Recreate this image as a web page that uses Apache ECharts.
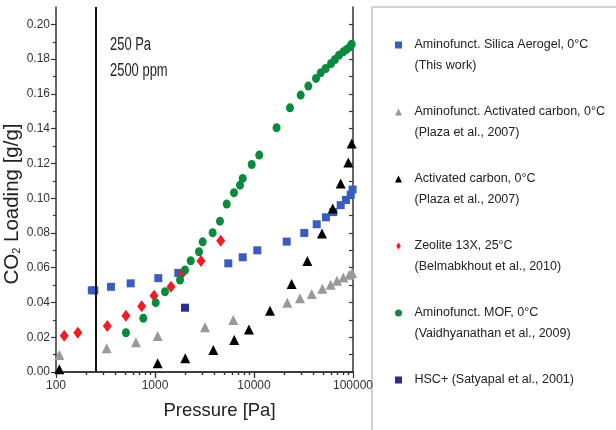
<!DOCTYPE html>
<html>
<head>
<meta charset="utf-8">
<script src="https://cdn.jsdelivr.net/npm/echarts@6/dist/echarts.min.js"></script>
<style>
html, body { margin: 0; padding: 0; background: #fff; }
#chart { width: 616px; height: 430px; }
</style>
</head>
<body>
<div id="chart"></div>
<script>
// values: pressure [Pa] and CO2 loading [g/g]
const silicaP = [230, 244, 359, 568, 1080, 1720, 5500, 7690, 10800, 21400, 32200, 43000, 53300, 63200, 75100, 84900, 94800, 99000];
const silicaL = [0.047, 0.047, 0.049, 0.051, 0.054, 0.057, 0.0625, 0.066, 0.070, 0.075, 0.080, 0.085, 0.089, 0.092, 0.096, 0.099, 0.102, 0.105];

const aminoCarbonP = [108, 325, 643, 1065, 3200, 6180, 21700, 29100, 38300, 49000, 59500, 68900, 79800, 91800, 98000];
const aminoCarbonL = [0.0098, 0.0136, 0.0171, 0.0207, 0.0257, 0.0299, 0.0399, 0.0424, 0.0449, 0.0479, 0.0502, 0.0525, 0.0544, 0.0560, 0.0570];

const carbonP = [108, 1065, 2020, 3880, 6320, 8890, 14500, 24000, 34600, 48600, 62400, 75100, 89700, 97000];
const carbonL = [0.0016, 0.005, 0.0079, 0.0127, 0.0184, 0.0245, 0.0353, 0.0506, 0.0638, 0.0797, 0.0941, 0.1085, 0.1206, 0.1315];

const zeoliteP = [121, 166, 330, 509, 734, 977, 1450, 1905, 2915, 4610];
const zeoliteL = [0.0209, 0.0226, 0.0264, 0.0324, 0.0378, 0.0439, 0.049, 0.0571, 0.0638, 0.0755];

const mofP = [509, 762, 1017, 1262, 1790, 2010, 2295, 2780, 3030, 3820, 4530, 5300, 6280, 7220, 7690, 9480, 11300, 16900, 23100, 29600, 35400, 42300, 47200, 53000, 60000, 65800, 72200, 79800, 86300, 93300, 97000];
const mofL = [0.0226, 0.0309, 0.0399, 0.0462, 0.0529, 0.0587, 0.064, 0.0692, 0.0749, 0.0801, 0.0868, 0.0966, 0.1031, 0.1075, 0.1114, 0.1194, 0.1248, 0.1405, 0.152, 0.1593, 0.1645, 0.1689, 0.1721, 0.1746, 0.1775, 0.1798, 0.1823, 0.1842, 0.1856, 0.1871, 0.1886];

const hscP = [2010];
const hscL = [0.037];

const seriesNames = [
    'Aminofunct. Silica Aerogel, 0°C\n(This work)',
    'Aminofunct. Activated carbon, 0°C\n(Plaza et al., 2007)',
    'Activated carbon, 0°C\n(Plaza et al., 2007)',
    'Zeolite 13X, 25°C\n(Belmabkhout et al., 2010)',
    'Aminofunct. MOF, 0°C\n(Vaidhyanathan et al., 2009)',
    'HSC+ (Satyapal et al., 2001)'
];

const yTicks = [0, 0.02, 0.04, 0.06, 0.08, 0.10, 0.12, 0.14, 0.16, 0.18, 0.20];
const yMinorTicks = [0.01, 0.03, 0.05, 0.07, 0.09, 0.11, 0.13, 0.15, 0.17, 0.19];
const markPressure = 250;   // vertical line, 250 Pa = 2500 ppm

// minor tick places of the log axis (2..9 x each decade), in log10 units
const decades = [2, 3, 4];
const minorLogs = [];
decades.forEach(function (d) {
    for (let k = 2; k <= 9; k++) minorLogs.push(d + Math.log10(k));
});

// legend markers as paths so they keep their shape inside the wide icon box
const ICON_SQUARE = 'path://M0,0L10,0L10,10L0,10Z';
const ICON_TRIANGLE = 'path://M5,0L10,10L0,10Z';
const ICON_DIAMOND = 'path://M4,0L8,6L4,12L0,6Z';
const ICON_CIRCLE = 'path://M5,0A5,5,0,1,1,5,10A5,5,0,1,1,5,0Z';

const SANS = '"Liberation Sans", Arial, sans-serif';
const axisColor = '#333';

const gridRect = { left: 56, top: 7, width: 297, height: 365 };

function pairs(xs, ys) {
    return xs.map(function (x, i) { return [x, ys[i]]; });
}

const chart = echarts.init(document.getElementById('chart'), null, { renderer: 'canvas' });

const option = {
    animation: false,
    backgroundColor: '#fff',
    grid: [
        Object.assign({}, gridRect),
        Object.assign({}, gridRect),
        Object.assign({}, gridRect),
        Object.assign({}, gridRect)
    ],
    xAxis: [
        {
            type: 'log', gridIndex: 0, position: 'bottom', logBase: 10, min: 100, max: 100000,
            name: 'Pressure [Pa]', nameLocation: 'middle', nameGap: 29,
            nameTextStyle: { fontFamily: SANS, fontSize: 18.5, color: '#222', padding: [0, 0, 0, 30] },
            axisLine: { lineStyle: { color: axisColor, width: 1.5 } },
            axisTick: { inside: false, length: 6, lineStyle: { color: axisColor, width: 1.2 } },
            axisLabel: {
                margin: 8, fontFamily: SANS, fontSize: 12, color: '#333',
                formatter: function (v) { return String(Math.round(v)); }
            },
            splitLine: { show: false }, minorTick: { show: false }
        },
        {
            type: 'value', gridIndex: 1, position: 'bottom', min: 2, max: 5,
            axisLine: { show: false },
            axisTick: { inside: false, length: 3, customValues: minorLogs, lineStyle: { color: axisColor, width: 1.2 } },
            axisLabel: { show: false }, splitLine: { show: false }
        },
        {
            type: 'value', gridIndex: 2, position: 'top', min: 2, max: 5,
            axisLine: { lineStyle: { color: axisColor, width: 1.5 } },
            axisTick: { inside: true, length: 6, customValues: [3, 4], lineStyle: { color: axisColor, width: 1.2 } },
            axisLabel: { show: false }, splitLine: { show: false }
        },
        {
            type: 'value', gridIndex: 3, position: 'top', min: 2, max: 5,
            axisLine: { show: false },
            axisTick: { inside: true, length: 3, customValues: minorLogs, lineStyle: { color: axisColor, width: 1.2 } },
            axisLabel: { show: false }, splitLine: { show: false }
        }
    ],
    yAxis: [
        {
            type: 'value', gridIndex: 0, position: 'left', min: 0, max: 0.21,
            name: '{a|CO}{b|2}{a| Loading [g/g]}', nameLocation: 'middle', nameGap: 26,
            nameTextStyle: {
                padding: [0, 29, 0, 0],
                rich: {
                    a: { fontFamily: SANS, fontSize: 20.5, color: '#222' },
                    b: { fontFamily: SANS, fontSize: 11, color: '#222', verticalAlign: 'bottom' }
                }
            },
            axisLine: { lineStyle: { color: axisColor, width: 1.5 } },
            axisTick: { inside: false, length: 5, customValues: yTicks, lineStyle: { color: axisColor, width: 1.2 } },
            axisLabel: {
                customValues: yTicks, margin: 6, fontFamily: SANS, fontSize: 12, color: '#333',
                formatter: function (v) { return v.toFixed(2); }
            },
            splitLine: { show: false }
        },
        {
            type: 'value', gridIndex: 1, position: 'left', min: 0, max: 0.21,
            axisLine: { show: false },
            axisTick: { inside: false, length: 3, customValues: yMinorTicks, lineStyle: { color: axisColor, width: 1.2 } },
            axisLabel: { show: false }, splitLine: { show: false }
        },
        {
            type: 'value', gridIndex: 2, position: 'right', min: 0, max: 0.21,
            axisLine: { lineStyle: { color: axisColor, width: 1.5 } },
            axisTick: { inside: true, length: 4, customValues: yTicks.concat(yMinorTicks), lineStyle: { color: axisColor, width: 1.2 } },
            axisLabel: { show: false }, splitLine: { show: false }
        },
        {
            type: 'value', gridIndex: 3, position: 'right', min: 0, max: 0.21, show: false
        }
    ],
    legend: {
        orient: 'vertical',
        left: 395, top: 13.5,
        padding: 0,
        itemGap: 4,
        itemWidth: 22, itemHeight: 7,
        symbolKeepAspect: true,
        selectedMode: false,
        textStyle: { fontFamily: SANS, fontSize: 12.5, color: '#222', lineHeight: 21 },
        // blank lines keep the marker level with the first text line
        formatter: function (name) {
            return name.indexOf('\n') >= 0 ? '\n' + name : '\n' + name + '\n';
        },
        data: [
            { name: seriesNames[0], icon: ICON_SQUARE },
            { name: seriesNames[1], icon: ICON_TRIANGLE },
            { name: seriesNames[2], icon: ICON_TRIANGLE },
            { name: seriesNames[3], icon: ICON_DIAMOND },
            { name: seriesNames[4], icon: ICON_CIRCLE },
            { name: seriesNames[5], icon: ICON_SQUARE }
        ]
    },
    graphic: [
        {
            type: 'rect', silent: true,
            shape: { x: 372, y: 7, width: 300, height: 460 },
            style: { fill: 'none', stroke: '#c4c4c4', lineWidth: 1.5 }
        },
        {
            type: 'text', x: 110, y: 36, scaleX: 0.72,
            style: { text: '250 Pa', font: '18px ' + SANS, fill: '#222' }
        },
        {
            type: 'text', x: 110, y: 62, scaleX: 0.72,
            style: { text: '2500 ppm', font: '18px ' + SANS, fill: '#222' }
        }
    ],
    series: [
        {
            name: seriesNames[0], type: 'scatter', xAxisIndex: 0, yAxisIndex: 0,
            symbol: 'rect', symbolSize: 8,
            itemStyle: { color: '#3b5bbd', opacity: 1 },
            data: pairs(silicaP, silicaL),
            markLine: {
                silent: true, symbol: 'none', label: { show: false },
                lineStyle: { color: '#111', width: 2, type: 'solid' },
                data: [{ xAxis: markPressure }]
            }
        },
        {
            name: seriesNames[1], type: 'scatter', xAxisIndex: 0, yAxisIndex: 0,
            symbol: 'triangle', symbolSize: 10,
            itemStyle: { color: '#999999', opacity: 1 },
            data: pairs(aminoCarbonP, aminoCarbonL)
        },
        {
            name: seriesNames[2], type: 'scatter', xAxisIndex: 0, yAxisIndex: 0,
            symbol: 'triangle', symbolSize: 10,
            itemStyle: { color: '#000', opacity: 1 },
            data: pairs(carbonP, carbonL)
        },
        {
            name: seriesNames[3], type: 'scatter', xAxisIndex: 0, yAxisIndex: 0,
            symbol: 'diamond', symbolSize: [9, 12],
            itemStyle: { color: '#ee1c25', opacity: 1 },
            data: pairs(zeoliteP, zeoliteL)
        },
        {
            name: seriesNames[4], type: 'scatter', xAxisIndex: 0, yAxisIndex: 0,
            symbol: 'circle', symbolSize: [8, 9],
            itemStyle: { color: '#0a8a3c', opacity: 1 },
            data: pairs(mofP, mofL)
        },
        {
            name: seriesNames[5], type: 'scatter', xAxisIndex: 0, yAxisIndex: 0,
            symbol: 'rect', symbolSize: 8,
            itemStyle: { color: '#2b2e8c', opacity: 1 },
            data: pairs(hscP, hscL)
        }
    ]
};

chart.setOption(option);
</script>
</body>
</html>
